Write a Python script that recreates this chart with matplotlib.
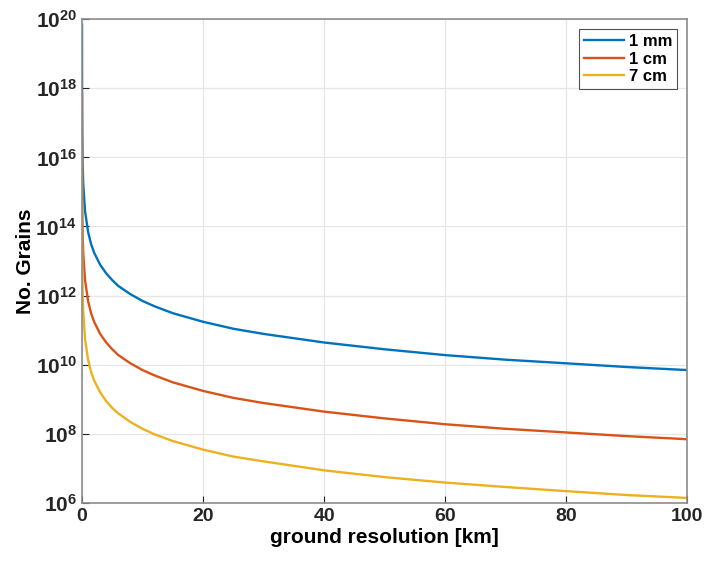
import numpy as np
import matplotlib
matplotlib.use('Agg')
import matplotlib.pyplot as plt
from matplotlib.ticker import FixedLocator, FuncFormatter

# Values
resolution_km = [0.001, 0.002, 0.005, 0.01, 0.02, 0.05, 0.1, 0.2, 0.5, 1, 1.5, 2, 3, 4, 5,
                 6, 8, 10, 12, 15, 20, 25, 30, 40, 50, 60, 70, 80, 90, 100]
grains_1mm = [7e19, 1.75e19, 2.8e18, 7e17, 1.75e17, 2.8e16, 7e15, 1.75e15, 2.8e14, 7e13,
              3.1e13, 1.75e13, 7.8e12, 4.4e12, 2.8e12, 1.9e12, 1.1e12, 7e11, 4.9e11, 3.1e11,
              1.75e11, 1.1e11, 7.8e10, 4.4e10, 2.8e10, 1.9e10, 1.4e10, 1.1e10, 8.6e9, 7e9]
grains_1cm = [7e17, 1.75e17, 2.8e16, 7e15, 1.75e15, 2.8e14, 7e13, 1.75e13, 2.8e12, 7e11,
              3.1e11, 1.75e11, 7.8e10, 4.4e10, 2.8e10, 1.9e10, 1.1e10, 7e9, 4.9e9, 3.1e9,
              1.75e9, 1.1e9, 7.8e8, 4.4e8, 2.8e8, 1.9e8, 1.4e8, 1.1e8, 8.6e7, 7e7]
grains_7cm = [1.4e16, 3.5e15, 5.6e14, 1.4e14, 3.5e13, 5.6e12, 1.4e12, 3.5e11, 5.6e10, 1.4e10,
              6.2e9, 3.5e9, 1.6e9, 8.8e8, 5.6e8, 3.9e8, 2.2e8, 1.4e8, 9.7e7, 6.2e7,
              3.5e7, 2.2e7, 1.6e7, 8.8e6, 5.6e6, 3.9e6, 2.9e6, 2.2e6, 1.7e6, 1.4e6]
labels = ['1 mm', '1 cm', '7 cm']
colors = ['#0072BD', '#D95319', '#EDB120']
x_ticks = [0, 20, 40, 60, 80, 100]
y_exps = [6, 8, 10, 12, 14, 16, 18, 20]

plt.rcParams['font.family'] = 'Liberation Sans'
plt.rcParams['font.weight'] = 'bold'
plt.rcParams['mathtext.fontset'] = 'custom'
plt.rcParams['mathtext.rm'] = 'Liberation Sans:bold'
plt.rcParams['mathtext.bf'] = 'Liberation Sans:bold'

fig = plt.figure(figsize=(7.07, 5.62), dpi=100)
ax = fig.add_axes([0.116, 0.105, 0.856, 0.861])

for ys, lab, c in zip([grains_1mm, grains_1cm, grains_7cm], labels, colors):
    ax.plot(resolution_km, ys, color=c, linewidth=1.7, label=lab)

ax.set_yscale('log')
ax.set_xlim(0, 100)
ax.set_ylim(1e6, 1e20)
ax.xaxis.set_major_locator(FixedLocator(x_ticks))
ax.yaxis.set_major_locator(FixedLocator([10.0 ** e for e in y_exps]))
ax.yaxis.set_minor_locator(FixedLocator([]))
ax.yaxis.set_major_formatter(FuncFormatter(lambda v, p: r'$\mathbf{10^{%d}}$' % round(np.log10(v))))
ax.tick_params(direction='in', labelsize=14, colors='#262626', length=5, width=0.8)
ax.tick_params(axis='y', labelsize=15)
for lbl in ax.get_xticklabels():
    lbl.set_fontweight('bold')

ax.grid(True, color='#e6e6e6', linewidth=0.9)
ax.set_axisbelow(True)
for s in ax.spines.values():
    s.set_color('#8c8c8c')
    s.set_linewidth(1.2)

ax.set_xlabel('ground resolution [km]', fontsize=15, fontweight='bold', labelpad=2)
ax.set_ylabel('No. Grains', fontsize=15, fontweight='bold', labelpad=0)

leg = ax.legend(loc='upper right', fontsize=12, frameon=True, fancybox=False,
                handlelength=2.4, handletextpad=0.3, borderpad=0.3, labelspacing=0.15,
                borderaxespad=0.6)
leg.get_frame().set_edgecolor('#262626')
leg.get_frame().set_linewidth(0.8)
for t in leg.get_texts():
    t.set_fontweight('bold')

fig.savefig('out.png', dpi=100)
